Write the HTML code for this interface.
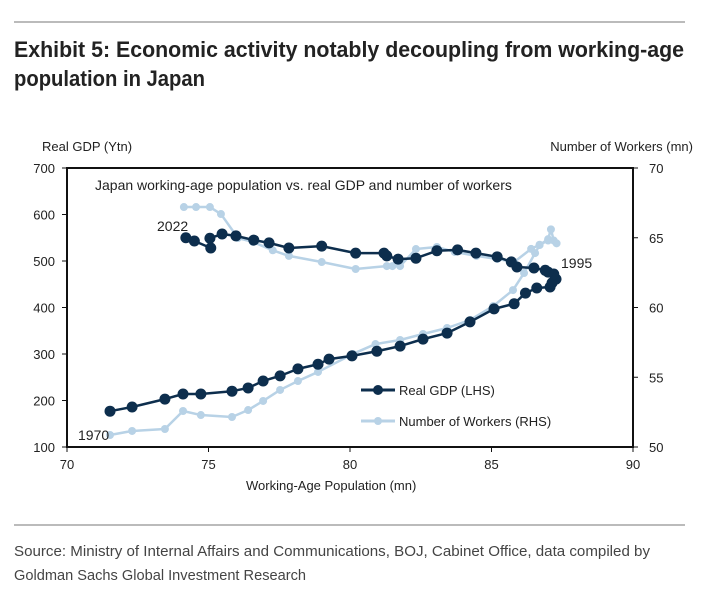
<!DOCTYPE html>
<html><head><meta charset="utf-8"><style>
body{margin:0;background:#fff;width:715px;height:592px;overflow:hidden;font-family:"Liberation Sans",sans-serif}
.narrow{font-family:"Liberation Sans Narrow","Liberation Sans",sans-serif}
</style></head><body>
<svg width="715" height="592" xmlns="http://www.w3.org/2000/svg">
<line x1="14" y1="22" x2="685" y2="22" stroke="#777" stroke-width="1"/>
<text class="narrow" x="14" y="57" font-size="22" font-weight="bold" fill="#222" textLength="670" lengthAdjust="spacingAndGlyphs">Exhibit 5: Economic activity notably decoupling from working-age</text>
<text class="narrow" x="14" y="86" font-size="22" font-weight="bold" fill="#222" textLength="191" lengthAdjust="spacingAndGlyphs">population in Japan</text>
<text x="42" y="151" font-size="13" fill="#222">Real GDP (Ytn)</text>
<text x="693" y="151" font-size="13" fill="#222" text-anchor="end">Number of Workers (mn)</text>
<g id="axes"></g>
<text x="95" y="190" font-size="14" fill="#222">Japan working-age population vs. real GDP and number of workers</text>
<g id="marks"></g>
<text x="157" y="231" font-size="14" fill="#222">2022</text>
<text x="78" y="440" font-size="14" fill="#222">1970</text>
<text x="561" y="268" font-size="14" fill="#222">1995</text>
<g>
<line x1="361" y1="390" x2="395" y2="390" stroke="#0d2e4d" stroke-width="3"/>
<circle cx="378" cy="390" r="5" fill="#0d2e4d"/>
<text x="399" y="395" font-size="13" fill="#222">Real GDP (LHS)</text>
<line x1="361" y1="421" x2="395" y2="421" stroke="#b8d2e6" stroke-width="3"/>
<circle cx="378" cy="421" r="4" fill="#b8d2e6"/>
<text x="399" y="426" font-size="13" fill="#222">Number of Workers (RHS)</text>
</g>
<text x="246" y="490" font-size="13" fill="#222">Working-Age Population (mn)</text>
<line x1="14" y1="525" x2="685" y2="525" stroke="#777" stroke-width="1"/>
<text class="narrow" x="14" y="556" font-size="15" fill="#444" textLength="636" lengthAdjust="spacingAndGlyphs">Source: Ministry of Internal Affairs and Communications, BOJ, Cabinet Office, data compiled by</text>
<text class="narrow" x="14" y="580" font-size="15" fill="#444" textLength="292" lengthAdjust="spacingAndGlyphs">Goldman Sachs Global Investment Research</text>
</svg>
<script>
const xTicks=[70,75,80,85,90];
const leftTicks=[100,200,300,400,500,600,700];
const rightTicks=[50,55,60,65,70];
const popGdp=[71.52,72.3,73.46,74.1,74.73,75.83,76.4,76.93,77.53,78.16,78.87,79.26,80.07,80.95,81.77,82.58,83.43,84.24,85.09,85.8,86.2,86.6,87.07,87.14,87.28,87.2,87.0,86.9,86.5,85.9,85.7,85.2,84.45,83.8,83.07,82.33,81.7,81.3,81.2,80.2,79.0,77.84,77.14,76.6,75.97,75.48,75.05,75.08,74.5,74.2];
const gdp=[177,186,203,214,214,220,227,242,253,268,278,289,296,306,317,332,345,369,397,408,431,442,444,453,461,472,476,480,485,487,498,509,517,524,522,506,504,511,517,517,532,528,539,545,554,558,549,528,543,550];
const popWork=[71.52,72.3,73.46,74.1,74.73,75.83,76.4,76.93,77.53,78.16,78.87,80.1,80.9,81.77,82.58,83.43,84.24,85.06,85.76,86.15,86.54,86.7,87.0,87.1,87.2,87.3,87.0,86.7,86.4,85.8,85.2,84.47,83.7,83.07,82.33,81.77,81.5,81.3,80.2,79.0,77.84,77.27,76.57,76.04,75.44,75.05,74.56,74.13];
const workers=[50.86,51.15,51.29,52.58,52.29,52.15,52.65,53.3,54.09,54.73,55.38,56.67,57.38,57.67,58.1,58.53,59.1,60.1,61.25,62.47,63.9,64.48,64.9,65.6,64.8,64.6,64.8,64.5,64.2,63.26,63.48,63.7,63.98,64.34,64.19,62.97,62.97,62.97,62.76,63.26,63.7,64.1,64.7,64.98,66.7,67.2,67.2,67.2];
const L=67,R=633,T=168,B=447;
const X=v=>L+(v-70)/20*(R-L);
const YL=v=>B-(v-100)/600*(B-T);
const YR=v=>B-(v-50)/20*(B-T);
const NS='http://www.w3.org/2000/svg';
function mk(tag,attrs,parent){const e=document.createElementNS(NS,tag);for(const k in attrs)e.setAttribute(k,attrs[k]);parent.appendChild(e);return e;}
const ax=document.getElementById('axes');
const box=mk('rect',{x:L,y:T,width:R-L,height:B-T,fill:'none',stroke:'#111','stroke-width':2},ax);


xTicks.forEach(v=>{
 const t=mk('line',{x1:X(v),y1:B,x2:X(v),y2:B+5,stroke:'#111'},ax);
 
 
 const l=mk('text',{x:X(v),y:B+22,'font-size':13,'text-anchor':'middle',fill:'#222'},ax);l.textContent=v;
 
 
});
leftTicks.forEach(v=>{
 const t=mk('line',{x1:L-5,y1:YL(v),x2:L,y2:YL(v),stroke:'#111'},ax);
 
 
 const l=mk('text',{x:L-12,y:YL(v)+5,'font-size':13,'text-anchor':'end',fill:'#222'},ax);l.textContent=v;
 
 
});
rightTicks.forEach(v=>{
 const t=mk('line',{x1:R,y1:YR(v),x2:R+5,y2:YR(v),stroke:'#111'},ax);
 
 
 const l=mk('text',{x:R+16,y:YR(v)+5,'font-size':13,fill:'#222'},ax);l.textContent=v;
 
 
});
const mg=document.getElementById('marks');
function series(xs,ys,yf,color,w,r,name){
 const g=mk('g',{},mg);
 
 
 const p=mk('polyline',{points:xs.map((x,i)=>X(x)+','+yf(ys[i])).join(' '),fill:'none',stroke:color,'stroke-width':w,'stroke-linejoin':'round'},g);
 
 
 xs.forEach((x,i)=>{
  const c=mk('circle',{cx:X(x),cy:yf(ys[i]),r:r,fill:color},g);
  
  
 });
}
series(popWork,workers,YR,'#b8d2e6',2.5,4,'workers-series');
series(popGdp,gdp,YL,'#0d2e4d',2.5,5.5,'gdp-series');
</script>
</body></html>
